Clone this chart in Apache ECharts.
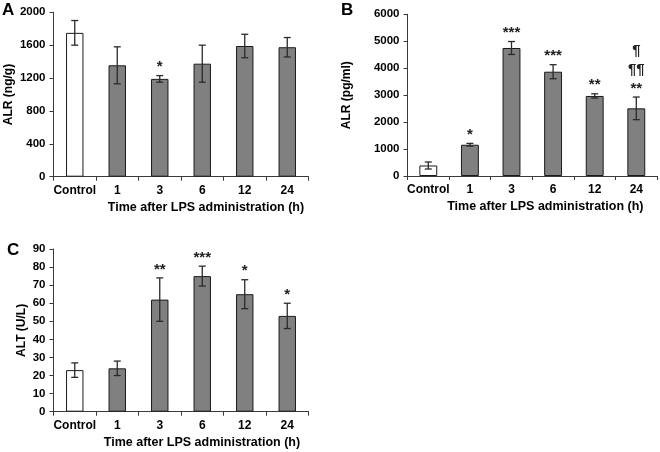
<!DOCTYPE html>
<html><head><meta charset="utf-8">
<script src="https://cdn.jsdelivr.net/npm/echarts@6/dist/echarts.min.js"></script>
<style>html,body{margin:0;padding:0;background:#fff}#c{width:660px;height:452px}</style>
</head><body><div id="c"></div>
<script>
const categories = ['Control', '1', '3', '6', '12', '24'];

const valuesA = [1750, 1355, 1190, 1375, 1590, 1575];
const errorsA = [150, 225, 40, 225, 143, 118];
const marksA = ['', '', '*', '', '', ''];

const valuesB = [390, 1160, 4750, 3870, 2970, 2510];
const errorsB = [130, 50, 240, 260, 80, 420];
const marksB = ['', '*', '***', '***', '**', '¶\n¶¶\n**'];

const valuesC = [23, 24, 62, 75, 65, 53];
const errorsC = [4, 4, 12, 5.5, 8, 7];
const marksC = ['', '', '**', '***', '*', '*'];

const FONT = '"Liberation Sans", Arial, sans-serif';
const AXIS_COLOR = '#3a3a3a';
const xName = 'Time after LPS administration (h)';

const chart = echarts.init(document.getElementById('c'), null, {renderer: 'canvas'});

function makeX(gridIndex, padLeft) {
  return {
    type: 'category', gridIndex, data: categories, boundaryGap: true,
    axisLine: {show: true, lineStyle: {color: AXIS_COLOR, width: 1}},
    axisTick: {show: true, alignWithLabel: false, interval: 0, length: 4, lineStyle: {color: AXIS_COLOR}},
    axisLabel: {interval: 0, color: '#000', fontFamily: FONT, fontWeight: 'bold', fontSize: 12, margin: 8},
    name: xName, nameLocation: 'middle', nameGap: 24,
    nameTextStyle: {color: '#000', fontFamily: FONT, fontWeight: 'bold', fontSize: 12.5, padding: [0, 0, 0, padLeft]}
  };
}
function makeY(gridIndex, max, interval, name, gap) {
  return {
    type: 'value', gridIndex, min: 0, max, interval,
    axisLine: {show: true, lineStyle: {color: AXIS_COLOR, width: 1}},
    axisTick: {show: true, length: 4, lineStyle: {color: AXIS_COLOR}},
    splitLine: {show: false},
    axisLabel: {color: '#000', fontFamily: FONT, fontWeight: 'bold', fontSize: 11.5, margin: 8, formatter: v => String(v)},
    name, nameLocation: 'middle', nameGap: gap,
    nameTextStyle: {color: '#000', fontFamily: FONT, fontWeight: 'bold', fontSize: 12}
  };
}
function barData(vals) {
  return vals.map((v, i) => i === 0 ? {value: v, itemStyle: {color: '#ffffff'}} : v);
}
function errRender(marks) {
  return function (params, api) {
    const i = api.value(0), v = api.value(1), e = api.value(2);
    const top = api.coord([i, v + e]);
    const bot = api.coord([i, v - e]);
    const cap = 3.5;
    const st = {stroke: '#2a2a2a', lineWidth: 1.3};
    const children = [
      {type: 'line', shape: {x1: top[0], y1: top[1], x2: bot[0], y2: bot[1]}, style: st},
      {type: 'line', shape: {x1: top[0] - cap, y1: top[1], x2: top[0] + cap, y2: top[1]}, style: st},
      {type: 'line', shape: {x1: bot[0] - cap, y1: bot[1], x2: bot[0] + cap, y2: bot[1]}, style: st}
    ];
    const m = marks[i];
    if (m) {
      children.push({
        type: 'text', x: top[0], y: top[1] + 1,
        style: {text: m, fill: '#222', font: 'bold 15px ' + FONT, align: 'center', verticalAlign: 'bottom', lineHeight: 19}
      });
    }
    return {type: 'group', children};
  };
}
function errData(vals, errs) { return vals.map((v, i) => [i, v, errs[i]]); }

const barStyle = {color: '#808080', borderColor: '#1a1a1a', borderWidth: 1};

chart.setOption({
  animation: false,
  backgroundColor: '#fff',
  textStyle: {fontFamily: FONT},
  grid: [
    {left: 53.5, top: 12.3, width: 255, height: 164.4, outerBoundsMode: 'none'},
    {left: 407.5, top: 14.3, width: 249.6, height: 161.7, outerBoundsMode: 'none'},
    {left: 53.5, top: 249, width: 255, height: 162.7, outerBoundsMode: 'none'}
  ],
  xAxis: [makeX(0, 50), makeX(1, 26), makeX(2, 42)],
  yAxis: [
    makeY(0, 2000, 400, 'ALR (ng/g)', 39),
    makeY(1, 6000, 1000, 'ALR (pg/ml)', 55),
    makeY(2, 90, 10, 'ALT (U/L)', 26)
  ],
  title: [
    {text: 'A', left: 2, top: 2, textStyle: {fontFamily: FONT, fontWeight: 'bold', fontSize: 17, color: '#000'}, padding: 0},
    {text: 'B', left: 341, top: 2, textStyle: {fontFamily: FONT, fontWeight: 'bold', fontSize: 17, color: '#000'}, padding: 0},
    {text: 'C', left: 7, top: 242, textStyle: {fontFamily: FONT, fontWeight: 'bold', fontSize: 17, color: '#000'}, padding: 0}
  ],
  series: [
    {type: 'bar', xAxisIndex: 0, yAxisIndex: 0, data: barData(valuesA), barWidth: '41%', itemStyle: barStyle},
    {type: 'bar', xAxisIndex: 1, yAxisIndex: 1, data: barData(valuesB), barWidth: '43%', itemStyle: barStyle},
    {type: 'bar', xAxisIndex: 2, yAxisIndex: 2, data: barData(valuesC), barWidth: '41%', itemStyle: barStyle},
    {type: 'custom', xAxisIndex: 0, yAxisIndex: 0, data: errData(valuesA, errorsA), renderItem: errRender(marksA), z: 5},
    {type: 'custom', xAxisIndex: 1, yAxisIndex: 1, data: errData(valuesB, errorsB), renderItem: errRender(marksB), z: 5},
    {type: 'custom', xAxisIndex: 2, yAxisIndex: 2, data: errData(valuesC, errorsC), renderItem: errRender(marksC), z: 5}
  ]
});
</script></body></html>
